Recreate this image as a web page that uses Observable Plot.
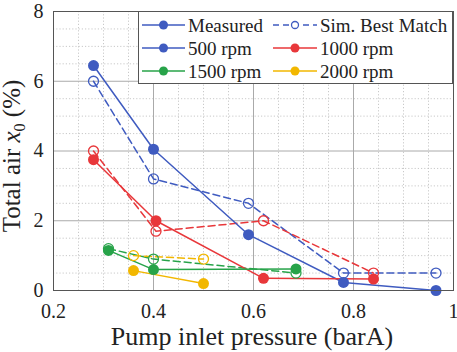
<!DOCTYPE html>
<html>
<head>
<meta charset="utf-8">
<script src="https://cdn.jsdelivr.net/npm/d3@7"></script>
<script src="https://cdn.jsdelivr.net/npm/@observablehq/plot@0.6"></script>
<style>
  html, body { margin: 0; padding: 0; background: #fff; }
  #chart { width: 457px; height: 352px; }
  #chart svg, #chart svg text, #chart svg tspan {
    font-family: "Liberation Serif", "Times New Roman", Times, "DejaVu Serif", serif !important;
  }
</style>
</head>
<body>
<div id="chart"></div>
<script>
// ---- data ----
const seriesNames = ["500 rpm", "1000 rpm", "1500 rpm", "2000 rpm"];
const seriesColors = ["#3f5bc0", "#e8373a", "#27a349", "#f2b700"];

const measX500 = [0.28, 0.40, 0.59, 0.78, 0.965];
const measY500 = [6.45, 4.05, 1.6, 0.23, 0.0];
const simX500  = [0.28, 0.40, 0.59, 0.78, 0.965];
const simY500  = [6.0, 3.2, 2.5, 0.5, 0.5];

const measX1000 = [0.28, 0.405, 0.62, 0.84];
const measY1000 = [3.75, 2.0, 0.35, 0.33];
const simX1000  = [0.28, 0.405, 0.62, 0.84];
const simY1000  = [4.0, 1.7, 2.0, 0.5];

const measX1500 = [0.31, 0.40, 0.685];
const measY1500 = [1.15, 0.6, 0.62];
const simX1500  = [0.31, 0.40, 0.685];
const simY1500  = [1.2, 0.9, 0.5];

const measX2000 = [0.36, 0.50];
const measY2000 = [0.57, 0.2];
const simX2000  = [0.36, 0.50];
const simY2000  = [1.0, 0.9];

const xTicks = [0.2, 0.4, 0.6, 0.8, 1.0];
const yTicks = [0, 2, 4, 6, 8];
const xMinor = [0.25,0.3,0.35,0.45,0.5,0.55,0.65,0.7,0.75,0.85,0.9,0.95];
const yMinor = [0.5,1,1.5,2.5,3,3.5,4.5,5,5.5,6.5,7,7.5];

const legendLabels = ["Measured", "Sim. Best Match", "500 rpm", "1000 rpm", "1500 rpm", "2000 rpm"];

// ---- build rows ----
const measured = [
  [measX500, measY500], [measX1000, measY1000], [measX1500, measY1500], [measX2000, measY2000]
].flatMap(([xs, ys], i) => xs.map((x, j) => ({x, y: ys[j], s: seriesNames[i]})));
const simulated = [
  [simX500, simY500], [simX1000, simY1000], [simX1500, simY1500], [simX2000, simY2000]
].flatMap(([xs, ys], i) => xs.map((x, j) => ({x, y: ys[j], s: seriesNames[i]})));

const FONT = "Liberation Serif, Times New Roman, serif";
const colorScale = {domain: seriesNames, range: seriesColors};

const plot = Plot.plot({
  width: 457,
  height: 352,
  marginLeft: 53,
  marginRight: 4,
  marginTop: 11,
  marginBottom: 62,
  style: {fontFamily: FONT, background: "#fff"},
  x: {domain: [0.2, 1], label: null},
  y: {domain: [0, 8], label: null},
  color: colorScale,
  marks: [
    Plot.ruleX(xMinor, {stroke: "#bbb", strokeWidth: 0.8, strokeDasharray: "1.2,2"}),
    Plot.ruleY(yMinor, {stroke: "#bbb", strokeWidth: 0.8, strokeDasharray: "1.2,2"}),
    Plot.ruleX(xTicks, {stroke: "#aaa", strokeWidth: 1}),
    Plot.ruleY(yTicks, {stroke: "#aaa", strokeWidth: 1}),
    Plot.line(simulated, {x: "x", y: "y", z: "s", stroke: "s", strokeWidth: 1.5, strokeDasharray: "7,4"}),
    Plot.line(measured, {x: "x", y: "y", z: "s", stroke: "s", strokeWidth: 1.5}),
    Plot.dot(simulated, {x: "x", y: "y", stroke: "s", r: 5, strokeWidth: 1.3, fill: "none"}),
    Plot.dot(measured, {x: "x", y: "y", fill: "s", r: 5.5}),
    Plot.frame({stroke: "#555", strokeWidth: 1}),
    Plot.axisX(xTicks, {tickSize: 0, tickPadding: 13, fontSize: 20, fill: "#222",
      tickFormat: d => d === 1 ? "1" : d3.format(".1f")(d)}),
    Plot.axisY(yTicks, {tickSize: 0, tickPadding: 10, fontSize: 20, fill: "#222", tickFormat: d3.format("d")})
  ]
});

document.getElementById("chart").appendChild(plot);

// ---- titles and legend drawn into the same svg ----
const svg = d3.select(plot);

svg.append("text")
  .attr("x", 252).attr("y", 345)
  .attr("text-anchor", "middle")
  .attr("font-size", 26).attr("fill", "#222")
  .text("Pump inlet pressure (barA)");

const yl = svg.append("text")
  .attr("transform", "translate(20,156) rotate(-90)")
  .attr("text-anchor", "middle")
  .attr("font-size", 25).attr("fill", "#222");
yl.append("tspan").text("Total air ");
yl.append("tspan").attr("font-style", "italic").text("x");
yl.append("tspan").attr("font-size", 16).attr("dy", 5).text("0");
yl.append("tspan").attr("dy", -5).text(" (%)");

// legend
const lg = svg.append("g");
lg.append("rect").attr("x", 138.5).attr("y", 11.5).attr("width", 314).attr("height", 72)
  .attr("fill", "#fff").attr("stroke", "#555").attr("stroke-width", 1);

const legendColors = [seriesColors[0], seriesColors[0], seriesColors[0], seriesColors[1], seriesColors[2], seriesColors[3]];
legendLabels.forEach((lab, i) => {
  const col = i % 2, row = Math.floor(i / 2);
  const x0 = col === 0 ? 142 : 273;
  const x1 = col === 0 ? 185 : 317;
  const cy = 25 + row * 23;
  const isSim = i === 1;
  const c = legendColors[i];
  lg.append("line").attr("x1", x0).attr("x2", x1).attr("y1", cy).attr("y2", cy)
    .attr("stroke", c).attr("stroke-width", 1.5)
    .attr("stroke-dasharray", isSim ? "6,4" : null);
  if (isSim) {
    lg.append("circle").attr("cx", (x0 + x1) / 2).attr("cy", cy).attr("r", 3.5)
      .attr("fill", "#fff").attr("stroke", c).attr("stroke-width", 1.3);
  } else {
    lg.append("circle").attr("cx", (x0 + x1) / 2).attr("cy", cy).attr("r", 4.5).attr("fill", c);
  }
  lg.append("text").attr("x", col === 0 ? 188 : 320).attr("y", cy + 6.5)
    .attr("text-anchor", "start")
    .attr("font-size", 19).attr("fill", "#222").text(lab);
});
</script>
</body>
</html>
